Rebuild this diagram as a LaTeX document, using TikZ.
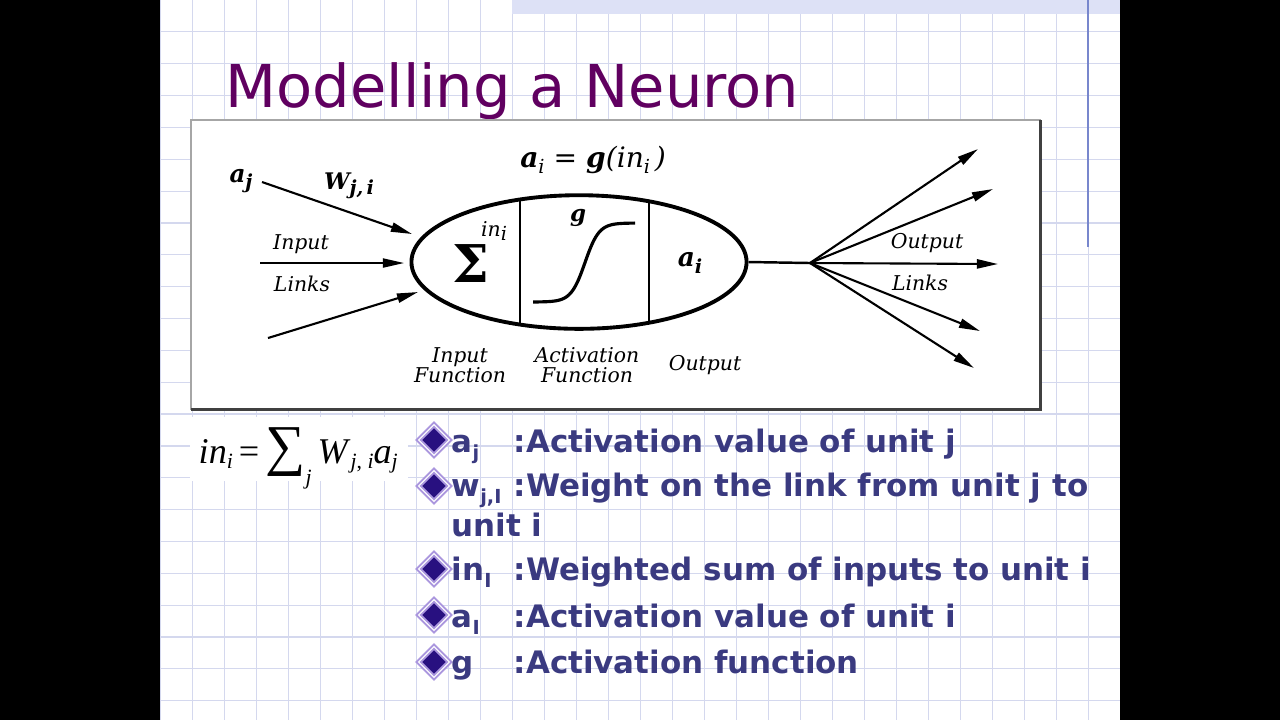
\documentclass[tikz,border=0pt]{standalone}
\usepackage{fontspec}
\setmainfont{Liberation Serif}
\newfontfamily\slidefont{DejaVu Sans}
\newfontfamily\figfont{DejaVu Serif}
\usetikzlibrary{arrows.meta, shapes.geometric}
\definecolor{titlecol}{RGB}{96,0,96}
\definecolor{itemcol}{RGB}{58,58,128}
\definecolor{gridcol}{RGB}{212,216,238}
\definecolor{bandcol}{RGB}{221,225,246}
\definecolor{rulecol}{RGB}{120,135,205}
\definecolor{gemdark}{RGB}{40,16,128}
\definecolor{gemlight}{RGB}{170,150,222}
\def\gridx{32}
\def\gridy{31.85}
\newcommand\sub[1]{\raisebox{-0.45ex}{\fontsize{5.5}{6}\selectfont #1}}

\tikzset{
  figlabel/.style={inner sep=0, font=\figfont\itshape\fontsize{5.8}{5.7}\selectfont, align=center},
  figbold/.style={inner sep=0, font=\figfont\bfseries\itshape\fontsize{6.5}{7}\selectfont},
  link/.style={line width=0.6pt, -{Triangle[length=6pt,width=2.6pt]}},
  gem/.style={diamond, inner sep=0, minimum size=9pt, fill=gemdark, draw=gemlight,
    double=white, double distance=0.3pt, line width=0.55pt},
  itemtext/.style={anchor=base west, inner sep=0, text=itemcol,
    font=\slidefont\bfseries\fontsize{8.8}{10}\selectfont},
}

\begin{document}
\begin{tikzpicture}[x=0.01cm, y=-0.01cm]
  \useasboundingbox (0,0) rectangle (1280,720);
  \fill[black] (0,0) rectangle (1280,720);
  \fill[white] (160,0) rectangle (1120,720);

  % slide grid
  \foreach \k in {0,...,29}
    \draw[gridcol, line width=0.35pt] ({160.3+\gridx*\k},0) -- ({160.3+\gridx*\k},720);
  \foreach \k in {1,...,22}
    \draw[gridcol, line width=0.35pt] (160,{\gridy*\k}) -- (1120,{\gridy*\k});
  \fill[bandcol] (512,0) rectangle (1120,14);
  \draw[rulecol, line width=0.4pt] (1088,0) -- (1088,247);

  \node[anchor=base west, inner sep=0, text=titlecol, font=\slidefont\fontsize{16.8}{20}\selectfont]
    (title) at (225,107) {Modelling a Neuron};

  % picture frame
  \filldraw[fill=white, draw=black!35, line width=0.4pt] (191,120) rectangle (1040,409);
  \draw[black!75, line width=0.6pt] (1040.5,120) -- (1040.5,409.5) -- (191,409.5);

  % unit body
  \node[ellipse, draw, line width=1.1pt, minimum width=95.3pt, minimum height=38pt, inner sep=0]
    (soma) at (579,262) {};
  \draw[line width=0.5pt] (520,199.5) -- (520,324.5);
  \draw[line width=0.5pt] (649,201) -- (649,323);
  \draw[line width=0.9pt] plot[domain=533:635, samples=80] (\x, {302-79/(1+exp(-(\x-585)/7))});

  \node[inner sep=0, font=\figfont\bfseries\fontsize{14.8}{15}\selectfont] (sigma) at (471,264) {Σ};
  \node[figlabel] (inlbl) at (494,231) {in\sub{i}};
  \node[figbold] (glbl) at (578,218) {g};
  \node[figbold, font=\figfont\bfseries\itshape\fontsize{7.5}{8}\selectfont] (ailbl) at (690,263) {a\sub{i}};
  \node[figbold, font=\figfont\itshape\fontsize{8}{9}\selectfont] (rule) at (593,160)
    {\textbf{a}\sub{i}\ = \textbf{g}(in\sub{i}\,)};

  % input links
  \coordinate (src1) at (262,182);
  \coordinate (dst1) at (412,234);
  \coordinate (src2) at (260,263);
  \coordinate (dst2) at (404,263);
  \coordinate (src3) at (268,338);
  \coordinate (dst3) at (418,292);
  \draw[link] (src1) -- (dst1);
  \draw[link, line width=0.45pt] (src2) -- (dst2);
  \draw[link] (src3) -- (dst3);

  \node[figbold, font=\figfont\bfseries\itshape\fontsize{7}{8}\selectfont] (ajlbl) at (241,181) {a\sub{j}};
  \node[figbold, font=\figfont\bfseries\itshape\fontsize{6.5}{8}\selectfont] (wlbl) at (349,186) {W\sub{j,\,i}};
  \node[figlabel] (inlinks1) at (301,244) {Input};
  \node[figlabel] (inlinks2) at (302,284) {Links};
  \node[figlabel] (infun) at (460,365) {Input\\Function};
  \node[figlabel] (actfun) at (587,365) {Activation\\Function};
  \node[figlabel] (outlbl) at (705,365) {Output};

  % output links
  \coordinate (hub) at (810,263);
  \draw[line width=0.7pt] (soma.east) -- (hub);
  \foreach \tx/\ty [count=\n] in {978/149, 993/189, 998/264, 980/331, 974/368} {
    \coordinate (out\n) at (\tx,\ty);
    \draw[link] (hub) -- (out\n);
  }
  \node[figlabel] (outlinks1) at (927,243) {Output};
  \node[figlabel] (outlinks2) at (920,283) {Links};

  % input function
  \fill[white] (190,417) rectangle (408,481);
  \node[anchor=base west, inner sep=0, font=\fontsize{10.3}{12}\selectfont] (sumrule) at (198,463)
    {\textit{in}\raisebox{-0.3ex}{\fontsize{6.2}{7}\selectfont\textit{i}}\,=\,\raisebox{-0.1ex}{\fontsize{16}{16}\selectfont ∑}\raisebox{-1.3ex}{\fontsize{6.2}{7}\selectfont\textit{j}}\,\textit{W}\raisebox{-0.3ex}{\fontsize{6.2}{7}\selectfont\textit{j}, \textit{i}}\textit{a}\raisebox{-0.3ex}{\fontsize{6.2}{7}\selectfont\textit{j}}};

  % legend
  \foreach \yy [count=\n] in {440, 486, 569, 615, 662}
    \node[gem] (gem\n) at (434,\yy) {};
  \node[itemtext] (sym1) at (451,452) {a\sub{j}};
  \node[itemtext] (def1) at (513,452) {:Activation value of unit j};
  \node[itemtext] (sym2) at (451,496) {w\sub{j,I}};
  \node[itemtext] (def2) at (513,496) {:Weight on the link from unit j to};
  \node[itemtext] (def2b) at (451,536) {unit i};
  \node[itemtext] (sym3) at (451,580) {in\sub{I}};
  \node[itemtext] (def3) at (513,580) {:Weighted sum of inputs to unit i};
  \node[itemtext] (sym4) at (451,627) {a\sub{I}};
  \node[itemtext] (def4) at (513,627) {:Activation value of unit i};
  \node[itemtext] (sym5) at (451,673) {g};
  \node[itemtext] (def5) at (513,673) {:Activation function};
\end{tikzpicture}
\end{document}
